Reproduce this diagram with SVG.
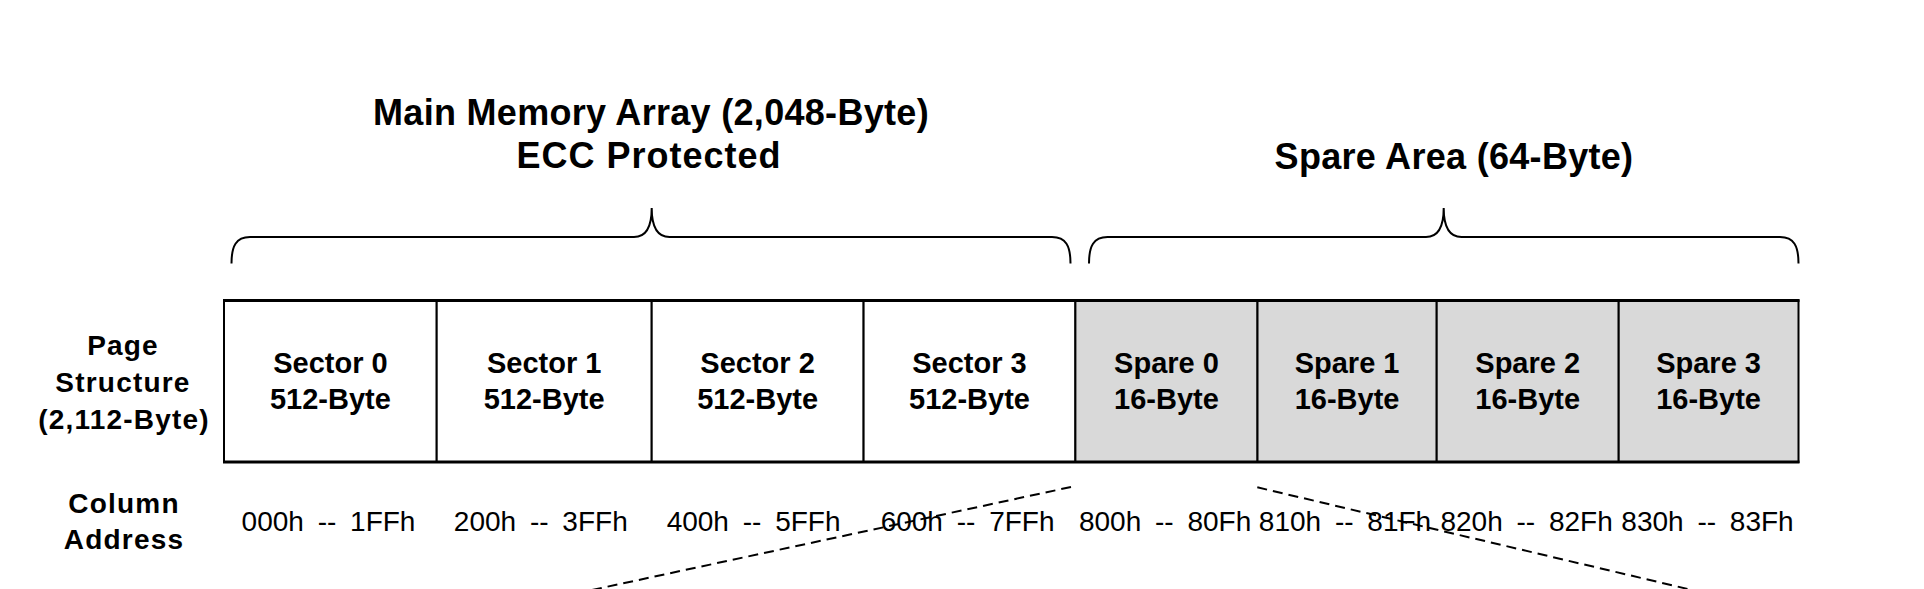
<svg xmlns="http://www.w3.org/2000/svg" width="1924" height="589" viewBox="0 0 1924 589">
<style>
.b{font-family:"Liberation Sans",Arial,sans-serif;font-weight:bold;fill:#000}
.cell{font-size:29px;text-anchor:middle}
.side{font-size:28px;letter-spacing:1.2px;text-anchor:middle}
.title{font-size:36px;text-anchor:middle}
.addr{font-family:"Liberation Sans",Arial,sans-serif;font-size:28px;word-spacing:6px;text-anchor:middle;fill:#000}
.sec{fill:#fff;stroke:#000;stroke-width:2}
.spr{fill:#d9d9d9;stroke:#000;stroke-width:2}
.brace{fill:none;stroke:#000;stroke-width:2}
.dash{fill:none;stroke:#000;stroke-width:2;stroke-dasharray:10 6}
</style>
<rect width="1924" height="589" fill="#fff"/>

<g id="title-main">
<text class="b title" x="651" y="125" style="letter-spacing:0.3px">Main Memory Array (2,048-Byte)</text>
<text class="b title" x="649" y="168" style="letter-spacing:1px">ECC Protected</text>
</g>
<g id="title-spare">
<text class="b title" x="1454" y="169" style="letter-spacing:0.3px">Spare Area (64-Byte)</text>
</g>

<g id="brace-main">
<path class="brace" d="M231.5,263.5 C231.5,246 236,237 250,237 H634 C646,237 651.7,228 651.7,208 C651.7,228 657.5,237 669.5,237 H1052 C1066,237 1070.5,246 1070.5,263.5"/>
</g>
<g id="brace-spare">
<path class="brace" d="M1089,263.5 C1089,246 1093.5,237 1107.5,237 H1426 C1438,237 1443.7,228 1443.7,208 C1443.7,228 1449.5,237 1461.5,237 H1780 C1794,237 1798.5,246 1798.5,263.5"/>
</g>

<g id="label-page">
<text class="b side" x="123" y="355">Page</text>
<text class="b side" x="123" y="392">Structure</text>
<text class="b side" x="124" y="429">(2,112-Byte)</text>
</g>
<g id="label-column">
<text class="b side" x="124" y="512.5">Column</text>
<text class="b side" x="124" y="548.5">Address</text>
</g>

<g id="sector0">
<rect class="sec" x="224" y="300.5" width="212.7" height="161.5"/>
<text class="b cell" x="330.4" y="373">Sector 0</text>
<text class="b cell" x="330.4" y="409">512-Byte</text>
</g>
<g id="sector1">
<rect class="sec" x="436.7" y="300.5" width="215" height="161.5"/>
<text class="b cell" x="544.2" y="373">Sector 1</text>
<text class="b cell" x="544.2" y="409">512-Byte</text>
</g>
<g id="sector2">
<rect class="sec" x="651.7" y="300.5" width="211.9" height="161.5"/>
<text class="b cell" x="757.6" y="373">Sector 2</text>
<text class="b cell" x="757.6" y="409">512-Byte</text>
</g>
<g id="sector3">
<rect class="sec" x="863.6" y="300.5" width="211.8" height="161.5"/>
<text class="b cell" x="969.5" y="373">Sector 3</text>
<text class="b cell" x="969.5" y="409">512-Byte</text>
</g>
<g id="spare0">
<rect class="spr" x="1075.4" y="300.5" width="182.1" height="161.5"/>
<text class="b cell" x="1166.5" y="373">Spare 0</text>
<text class="b cell" x="1166.5" y="409">16-Byte</text>
</g>
<g id="spare1">
<rect class="spr" x="1257.5" y="300.5" width="179.2" height="161.5"/>
<text class="b cell" x="1347.1" y="373">Spare 1</text>
<text class="b cell" x="1347.1" y="409">16-Byte</text>
</g>
<g id="spare2">
<rect class="spr" x="1436.7" y="300.5" width="182" height="161.5"/>
<text class="b cell" x="1527.7" y="373">Spare 2</text>
<text class="b cell" x="1527.7" y="409">16-Byte</text>
</g>
<g id="spare3">
<rect class="spr" x="1618.7" y="300.5" width="179.8" height="161.5"/>
<text class="b cell" x="1708.6" y="373">Spare 3</text>
<text class="b cell" x="1708.6" y="409">16-Byte</text>
</g>

<g id="frame" stroke="#000" stroke-width="3" fill="none">
<line x1="223" y1="300.5" x2="1799.5" y2="300.5"/>
<line x1="223" y1="462" x2="1799.5" y2="462"/>
</g>

<g id="addresses">
<text class="addr" x="328.5" y="531">000h -- 1FFh</text>
<text class="addr" x="540.8" y="531">200h -- 3FFh</text>
<text class="addr" x="753.6" y="531">400h -- 5FFh</text>
<text class="addr" x="967.6" y="531">600h -- 7FFh</text>
<text class="addr" x="1165.1" y="531">800h -- 80Fh</text>
<text class="addr" x="1345" y="531">810h -- 81Fh</text>
<text class="addr" x="1526.6" y="531">820h -- 82Fh</text>
<text class="addr" x="1707.5" y="531">830h -- 83Fh</text>
</g>

<g id="connectors">
<line class="dash" x1="1071" y1="487" x2="568.7" y2="595"/>
<line class="dash" x1="1257.3" y1="487.3" x2="1713.3" y2="595"/>
</g>
</svg>
